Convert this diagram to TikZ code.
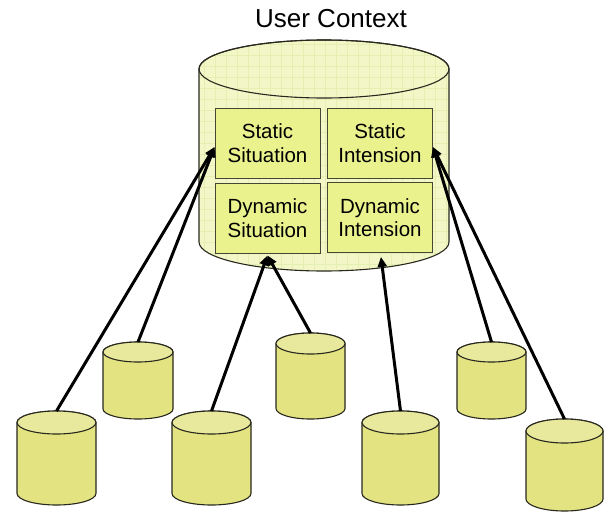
\documentclass[tikz,border=0pt]{standalone}
\usepackage{fontspec}
\setmainfont{Liberation Sans}
\usetikzlibrary{arrows.meta}

\definecolor{ctxfill}{RGB}{243,247,200}
\definecolor{ctxgrid}{RGB}{230,239,178}
\definecolor{boxfill}{RGB}{234,242,142}
\definecolor{boxline}{RGB}{70,70,50}
\definecolor{cylbody}{RGB}{228,227,130}
\definecolor{cyltop}{RGB}{233,233,157}
\definecolor{cylline}{RGB}{40,40,30}

\tikzset{
  partbox/.style={draw=boxline, line width=0.9pt, fill=boxfill,
    minimum width=105pt, minimum height=70pt, inner sep=0pt,
    align=center, font=\fontsize{20.5}{23.5}\selectfont},
  feed/.style={line width=3pt, -{Triangle[length=10pt,width=9pt]}, black},
  cylstroke/.style={draw=cylline, line width=1.1pt},
}

% y grows downwards here, so the lower half of an ellipse runs 180 -> 0
% and the upper half runs 0 -> -180

% small database cylinder: name, centre x, top y, x radius, y radius, bottom y
\newcommand\dbcyl[6]{%
  \filldraw[fill=cylbody, cylstroke]
    ({#2-#4},{#3+#5}) -- ({#2-#4},{#6-#5})
    arc[start angle=180, end angle=0, x radius=#4, y radius=#5]
    -- ({#2+#4},{#3+#5})
    arc[start angle=0, end angle=-180, x radius=#4, y radius=#5] -- cycle;
  \filldraw[fill=cyltop, cylstroke] (#2,{#3+#5}) ellipse[x radius=#4, y radius=#5];
  \coordinate (#1) at (#2,#3);
}

\begin{document}
\begin{tikzpicture}[x=1pt, y=-1pt]
\useasboundingbox (0,0) rectangle (614,512);

% title
\node[font=\fontsize{26}{29}\selectfont] (title) at (331,19) {User Context};

% user context store, with its faint grid texture
\begin{scope}
  \clip (199,69) -- (199,242)
    arc[start angle=180, end angle=0, x radius=125, y radius=29]
    -- (449,69)
    arc[start angle=0, end angle=-180, x radius=125, y radius=29] -- cycle;
  \fill[ctxfill] (190,30) rectangle (460,280);
  \foreach \gx in {193,204,...,460}
    \draw[ctxgrid, line width=0.8pt] (\gx,30) -- (\gx,280);
  \foreach \gy in {33,44,...,280}
    \draw[ctxgrid, line width=0.8pt] (190,\gy) -- (460,\gy);
\end{scope}
\draw[cylstroke] (199,69) -- (199,242)
    arc[start angle=180, end angle=0, x radius=125, y radius=29]
    -- (449,69)
    arc[start angle=0, end angle=-180, x radius=125, y radius=29] -- cycle;
\draw[cylstroke] (324,69) ellipse[x radius=125, y radius=29];

% context parts
\node[partbox] (ss) at (267.5,143) {Static\\Situation};
\node[partbox] (si) at (380,143) {Static\\Intension};
\node[partbox] (ds) at (267.5,218) {Dynamic\\Situation};
\node[partbox] (di) at (380,217.5) {Dynamic\\Intension};

% source stores
\dbcyl{srcA}{56.5}{411}{39.5}{11.5}{505}
\dbcyl{srcB}{138}{342}{35}{10}{419}
\dbcyl{srcC}{211.5}{411}{39.5}{11.5}{505}
\dbcyl{srcD}{310.5}{333}{34.5}{10.5}{419}
\dbcyl{srcE}{400.5}{411}{38.5}{11.5}{505}
\dbcyl{srcF}{491.5}{342}{34.5}{10}{419}
\dbcyl{srcG}{564.5}{419}{38.5}{12}{511}

% feeds into the context
\draw[feed] (srcA) -- ([yshift=-4pt]ss.west);
\draw[feed] (srcB) -- ([yshift=-4pt]ss.west);
\draw[feed] (srcC) -- ([yshift=-2pt]ds.south);
\draw[feed] (srcD) -- ([yshift=-2pt]ds.south);
\draw[feed] (srcE) -- ([xshift=1pt,yshift=-4pt]di.south);
\draw[feed] (srcF) -- ([yshift=-4pt]si.east);
\draw[feed] (srcG) -- ([yshift=-4pt]si.east);
\end{tikzpicture}
\end{document}
